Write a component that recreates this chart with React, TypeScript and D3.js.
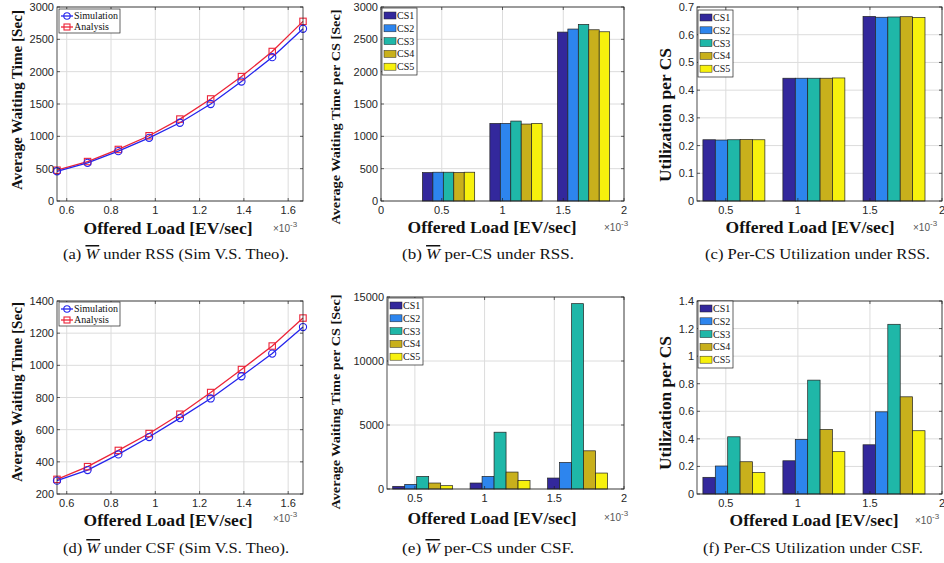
import React from "react";
import * as d3 from "d3";

// offered load (x10^-3 EV/sec)
const loads = [0.556, 0.694, 0.833, 0.972, 1.111, 1.25, 1.389, 1.528, 1.667];
const rssSim = [460, 590, 771, 977, 1210, 1500, 1847, 2224, 2664];
const rssAna = [476, 610, 797, 1009, 1267, 1578, 1924, 2312, 2778];
const csfSim = [283, 349, 446, 554, 672, 794, 932, 1073, 1238];
const csfAna = [291, 370, 471, 576, 696, 831, 974, 1120, 1294];

const barLoads = [0.556, 1.111, 1.667];
const csNames = ["CS1", "CS2", "CS3", "CS4", "CS5"];
const csColors = ["#33289c", "#2d85ee", "#1fb7a8", "#c8b01c", "#f7f10d"];

// one row per load, one value per CS
const rssWait = [
  [440, 445, 445, 440, 445],
  [1200, 1200, 1236, 1190, 1200],
  [2612, 2659, 2731, 2648, 2617],
];
const rssUtil = [
  [0.221, 0.22, 0.221, 0.222, 0.221],
  [0.443, 0.443, 0.443, 0.443, 0.444],
  [0.666, 0.663, 0.664, 0.665, 0.662],
];
const csfWait = [
  [208, 363, 986, 467, 260],
  [467, 986, 4437, 1323, 675],
  [856, 2075, 14480, 2983, 1246],
];
const csfUtil = [
  [0.121, 0.203, 0.415, 0.234, 0.155],
  [0.241, 0.396, 0.826, 0.468, 0.307],
  [0.357, 0.596, 1.231, 0.705, 0.459],
];

const lineXTicks = [0.6, 0.8, 1, 1.2, 1.4, 1.6];
const barXTicksB = [0, 0.5, 1, 1.5, 2];
const barXTicks = [0.5, 1, 1.5, 2];
const yTicksA = [0, 500, 1000, 1500, 2000, 2500, 3000];
const yTicksC = [0, 0.1, 0.2, 0.3, 0.4, 0.5, 0.6, 0.7];
const yTicksD = [200, 400, 600, 800, 1000, 1200, 1400];
const yTicksE = [0, 5000, 10000, 15000];
const yTicksF = [0, 0.2, 0.4, 0.6, 0.8, 1, 1.2, 1.4];

const serif = "'Liberation Serif', 'Times New Roman', serif";
const sans = "'Liberation Sans', Arial, sans-serif";
const gridColor = "#dcdcdc";
const tickColor = "#262626";

type Box = { l: number; r: number; t: number; b: number };

function Axes({ box, x, y, xTicks, yTicks, children }: any) {
  const tl = 3;
  return (
    <g>
      <rect x={box.l} y={box.t} width={box.r - box.l} height={box.b - box.t} fill="#fff" />
      {xTicks.map((v: number) => (
        <line key={"gx" + v} x1={x(v)} x2={x(v)} y1={box.t} y2={box.b} stroke={gridColor} strokeWidth={1} />
      ))}
      {yTicks.map((v: number) => (
        <line key={"gy" + v} x1={box.l} x2={box.r} y1={y(v)} y2={y(v)} stroke={gridColor} strokeWidth={1} />
      ))}
      {children}
      <rect x={box.l} y={box.t} width={box.r - box.l} height={box.b - box.t} fill="none" stroke="#222" strokeWidth={0.8} />
      {xTicks.map((v: number) => (
        <g key={"tx" + v}>
          <line x1={x(v)} x2={x(v)} y1={box.b} y2={box.b - tl} stroke="#222" strokeWidth={0.7} />
          <line x1={x(v)} x2={x(v)} y1={box.t} y2={box.t + tl} stroke="#222" strokeWidth={0.7} />
          <text x={x(v)} y={box.b + 13} textAnchor="middle" fontFamily={sans} fontSize={11} fill={tickColor}>
            {String(v)}
          </text>
        </g>
      ))}
      {yTicks.map((v: number) => (
        <g key={"ty" + v}>
          <line x1={box.l} x2={box.l + tl} y1={y(v)} y2={y(v)} stroke="#222" strokeWidth={0.7} />
          <line x1={box.r} x2={box.r - tl} y1={y(v)} y2={y(v)} stroke="#222" strokeWidth={0.7} />
          <text x={box.l - 3} y={y(v) + 4} textAnchor="end" fontFamily={sans} fontSize={11} fill={tickColor}>
            {String(v)}
          </text>
        </g>
      ))}
    </g>
  );
}

function Labels({ yLabel, yLabelX, yLabelY, yLabelSize, yLabelLen, xLabelX, xLabelY, expX, expY }: any) {
  return (
    <g>
      <text
        transform={`translate(${yLabelX},${yLabelY}) rotate(-90)`}
        textAnchor="middle"
        fontFamily={serif}
        fontWeight="bold"
        fontSize={yLabelSize}
        textLength={yLabelLen}
        lengthAdjust="spacingAndGlyphs"
        fill="#111"
      >
        {yLabel}
      </text>
      <text
        x={xLabelX}
        y={xLabelY}
        textAnchor="middle"
        fontFamily={serif}
        fontWeight="bold"
        fontSize={16.5}
        textLength={169}
        lengthAdjust="spacingAndGlyphs"
        fill="#111"
      >
        Offered Load [EV/sec]
      </text>
      <text x={expX} y={expY} fontFamily={sans} fontSize={10} fill="#555">
        ×10
        <tspan dy={-5} fontSize={8}>-3</tspan>
      </text>
    </g>
  );
}

function LinePanel({ box, yDom, yTicks, sim, ana, legend, labels }: any) {
  const x = d3.scaleLinear().domain([loads[0], loads[loads.length - 1]]).range([box.l, box.r]);
  const y = d3.scaleLinear().domain(yDom).range([box.b, box.t]);
  const line = d3
    .line<number>()
    .x((_, i) => x(loads[i]))
    .y((d) => y(d));
  const blue = "#2424ec";
  const red = "#ec2438";
  return (
    <g>
      <Axes box={box} x={x} y={y} xTicks={lineXTicks} yTicks={yTicks}>
        <path d={line(ana) || ""} fill="none" stroke={red} strokeWidth={1.3} />
        <path d={line(sim) || ""} fill="none" stroke={blue} strokeWidth={1.3} />
        {ana.map((d: number, i: number) => (
          <rect key={"a" + i} x={x(loads[i]) - 3.2} y={y(d) - 3.2} width={6.4} height={6.4} fill="none" stroke={red} strokeWidth={1.1} />
        ))}
        {sim.map((d: number, i: number) => (
          <circle key={"s" + i} cx={x(loads[i])} cy={y(d)} r={3.6} fill="none" stroke={blue} strokeWidth={1.1} />
        ))}
      </Axes>
      <g>
        <rect x={legend.x} y={legend.y} width={61} height={24} fill="#fff" stroke="#222" strokeWidth={0.7} />
        <line x1={legend.x + 2} x2={legend.x + 14} y1={legend.y + 7} y2={legend.y + 7} stroke={blue} strokeWidth={1.3} />
        <circle cx={legend.x + 8} cy={legend.y + 7} r={3.2} fill="none" stroke={blue} strokeWidth={1.1} />
        <text x={legend.x + 15} y={legend.y + 10} fontFamily={serif} fontSize={10} fill="#111">Simulation</text>
        <line x1={legend.x + 2} x2={legend.x + 14} y1={legend.y + 18} y2={legend.y + 18} stroke={red} strokeWidth={1.3} />
        <rect x={legend.x + 5} y={legend.y + 15} width={6} height={6} fill="none" stroke={red} strokeWidth={1.1} />
        <text x={legend.x + 15} y={legend.y + 21} fontFamily={serif} fontSize={10} fill="#111">Analysis</text>
      </g>
      <Labels {...labels} />
    </g>
  );
}

function BarPanel({ box, xDom, xTicks, yDom, yTicks, values, legend, labels }: any) {
  const x = d3.scaleLinear().domain(xDom).range([box.l, box.r]);
  const y = d3.scaleLinear().domain(yDom).range([box.b, box.t]);
  const groupWidth = 0.43;
  const inner = d3.scaleBand().domain(csNames).range([-groupWidth / 2, groupWidth / 2]).paddingInner(0);
  return (
    <g>
      <Axes box={box} x={x} y={y} xTicks={xTicks} yTicks={yTicks}>
        {values.map((row: number[], gi: number) =>
          row.map((v, ci) => {
            const x0 = x(barLoads[gi] + (inner(csNames[ci]) as number));
            const x1 = x(barLoads[gi] + (inner(csNames[ci]) as number) + inner.bandwidth());
            return (
              <rect
                key={gi + "-" + ci}
                x={x0}
                y={y(v)}
                width={x1 - x0}
                height={y(yDom[0]) - y(v)}
                fill={csColors[ci]}
                stroke="#222"
                strokeWidth={0.7}
              />
            );
          })
        )}
      </Axes>
      <g>
        <rect x={legend.x} y={legend.y} width={35} height={67} fill="#fff" stroke="#222" strokeWidth={0.7} />
        {csNames.map((n, i) => (
          <g key={n}>
            <rect x={legend.x + 2} y={legend.y + 4 + i * 12.8} width={12} height={7} fill={csColors[i]} stroke="#222" strokeWidth={0.5} />
            <text x={legend.x + 15} y={legend.y + 11 + i * 12.8} fontFamily={serif} fontSize={10} fill="#111">
              {n}
            </text>
          </g>
        ))}
      </g>
      <Labels {...labels} />
    </g>
  );
}

function Caption({ x, y, tag, w, rest, len }: any) {
  return (
    <text x={x} y={y} fontFamily={serif} fontSize={15} fill="#111" textLength={len} lengthAdjust="spacingAndGlyphs">
      {tag + " "}
      {w && (
        <tspan fontStyle="italic" textDecoration="overline">
          W
        </tspan>
      )}
      {rest}
    </text>
  );
}

export default function App() {
  const boxA: Box = { l: 57, r: 303, t: 7, b: 201 };
  const boxB: Box = { l: 381, r: 624, t: 7, b: 201 };
  const boxC: Box = { l: 697, r: 942, t: 7, b: 201 };
  const boxD: Box = { l: 57, r: 303, t: 301, b: 494 };
  const boxE: Box = { l: 387, r: 624, t: 297, b: 489 };
  const boxF: Box = { l: 697, r: 942, t: 301, b: 494 };
  return (
    <svg width={944} height={563} style={{ position: "absolute", left: 0, top: 0, background: "#fff" }}>
      <rect width={944} height={563} fill="#fff" />
      <LinePanel
        box={boxA}
        yDom={[0, 3000]}
        yTicks={yTicksA}
        sim={rssSim}
        ana={rssAna}
        legend={{ x: 59, y: 9 }}
        labels={{ yLabel: "Average Waiting Time [Sec]", yLabelX: 22, yLabelY: 100, yLabelSize: 14, yLabelLen: 180, xLabelX: 168, xLabelY: 234, expX: 273, expY: 232 }}
      />
      <BarPanel
        box={boxB}
        xDom={[0, 2]}
        xTicks={barXTicksB}
        yDom={[0, 3000]}
        yTicks={yTicksA}
        values={rssWait}
        legend={{ x: 382, y: 8 }}
        labels={{ yLabel: "Average Waiting Time per CS [Sec]", yLabelX: 340, yLabelY: 117, yLabelSize: 13, yLabelLen: 215, xLabelX: 492, xLabelY: 233, expX: 604, expY: 231 }}
      />
      <BarPanel
        box={boxC}
        xDom={[0.3, 2]}
        xTicks={barXTicks}
        yDom={[0, 0.7]}
        yTicks={yTicksC}
        values={rssUtil}
        legend={{ x: 698, y: 10 }}
        labels={{ yLabel: "Utilization per CS", yLabelX: 671, yLabelY: 115, yLabelSize: 16, yLabelLen: 134, xLabelX: 810, xLabelY: 233, expX: 913, expY: 231 }}
      />
      <LinePanel
        box={boxD}
        yDom={[200, 1400]}
        yTicks={yTicksD}
        sim={csfSim}
        ana={csfAna}
        legend={{ x: 59, y: 302 }}
        labels={{ yLabel: "Average Waiting Time [Sec]", yLabelX: 22, yLabelY: 392, yLabelSize: 14, yLabelLen: 180, xLabelX: 168, xLabelY: 526, expX: 273, expY: 522 }}
      />
      <BarPanel
        box={boxE}
        xDom={[0.3, 2]}
        xTicks={barXTicks}
        yDom={[0, 15000]}
        yTicks={yTicksE}
        values={csfWait}
        legend={{ x: 388, y: 298 }}
        labels={{ yLabel: "Average Waiting Time per CS [Sec]", yLabelX: 340, yLabelY: 402, yLabelSize: 13, yLabelLen: 215, xLabelX: 492, xLabelY: 524, expX: 604, expY: 521 }}
      />
      <BarPanel
        box={boxF}
        xDom={[0.3, 2]}
        xTicks={barXTicks}
        yDom={[0, 1.4]}
        yTicks={yTicksF}
        values={csfUtil}
        legend={{ x: 698, y: 301 }}
        labels={{ yLabel: "Utilization per CS", yLabelX: 671, yLabelY: 403, yLabelSize: 16, yLabelLen: 134, xLabelX: 814, xLabelY: 526, expX: 915, expY: 524 }}
      />
      <Caption x={63} y={259} tag="(a)" w rest=" under RSS (Sim V.S. Theo)." len={226} />
      <Caption x={402} y={259} tag="(b)" w rest=" per-CS under RSS." len={172} />
      <Caption x={705} y={259} tag="(c)" rest="Per-CS Utilization under RSS." len={225} />
      <Caption x={63} y={553} tag="(d)" w rest=" under CSF (Sim V.S. Theo)." len={226} />
      <Caption x={402} y={553} tag="(e)" w rest=" per-CS under CSF." len={172} />
      <Caption x={703} y={553} tag="(f)" rest="Per-CS Utilization under CSF." len={220} />
    </svg>
  );
}
